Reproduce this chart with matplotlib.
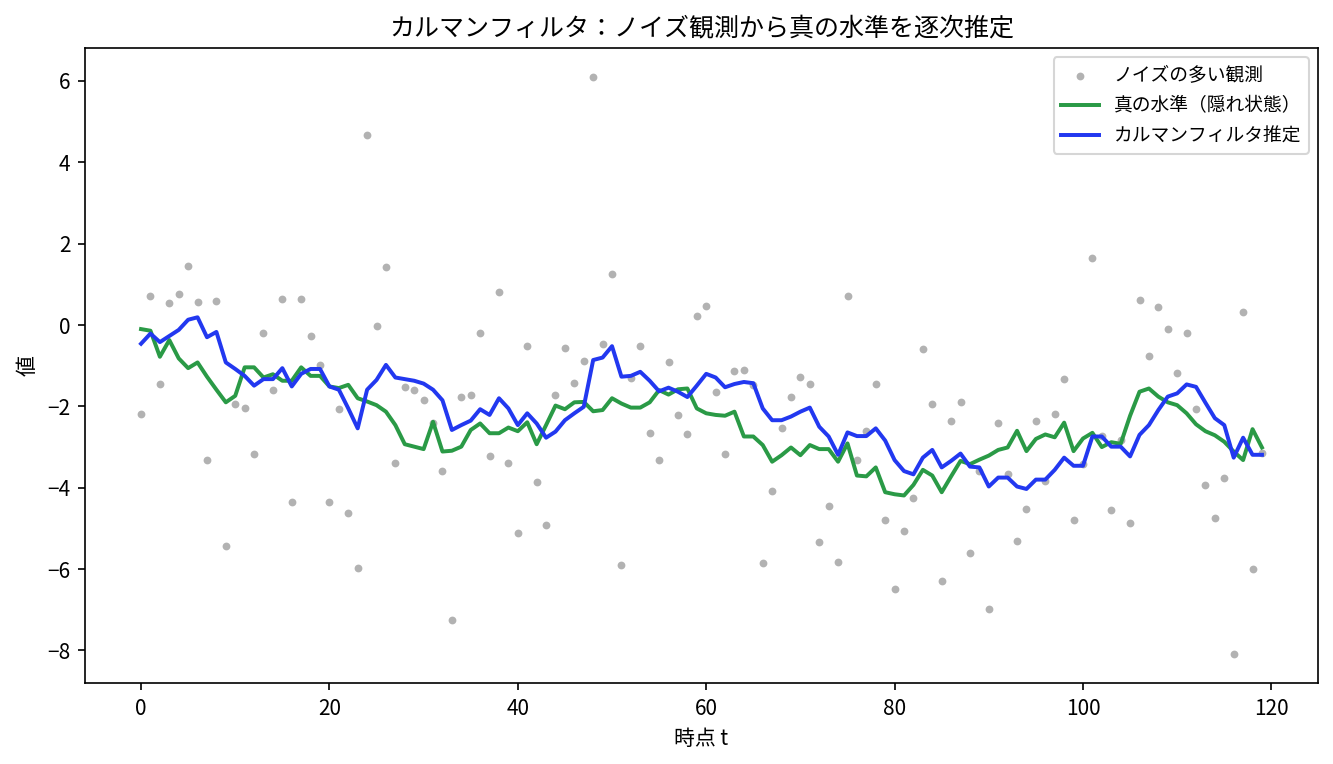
import numpy as np
import matplotlib.pyplot as plt

plt.rcParams['font.family'] = ['Noto Sans CJK JP', 'DejaVu Sans']
plt.rcParams['axes.unicode_minus'] = True

# 観測値（ノイズ入り）
observed = [
    -2.18, 0.71, -1.44, 0.54, 0.76, 1.46, 0.56, -3.31, 0.59, -5.44,
    -1.95, -2.03, -3.16, -0.19, -1.59, 0.64, -4.36, 0.64, -0.27, -0.99,
    -4.36, -2.07, -4.61, -5.98, 4.66, -0.02, 1.42, -3.38, -1.53, -1.59,
    -1.85, -2.40, -3.59, -7.25, -1.76, -1.73, -0.19, -3.23, 0.81, -3.40,
    -5.12, -0.52, -3.87, -4.92, -1.73, -0.57, -1.42, -0.88, 6.10, -0.46,
    1.25, -5.90, -1.31, -0.52, -2.65, -3.31, -0.92, -2.20, -2.69, 0.23,
    0.47, -1.64, -3.16, -1.12, -1.10, -1.47, -5.86, -4.07, -2.52, -1.76,
    -1.27, -1.44, -5.34, -4.46, -5.83, 0.71, -3.33, -2.61, -1.44, -4.80,
    -6.49, -5.07, -4.26, -0.59, -1.95, -6.30, -2.37, -1.88, -5.61, -3.60,
    -6.98, -2.42, -3.67, -5.31, -4.53, -2.35, -3.83, -2.18, -1.32, -4.80,
    -3.42, 1.64, -2.74, -4.55, -2.82, -4.87, 0.62, -0.77, 0.45, -0.10,
    -1.19, -0.20, -2.06, -3.94, -4.75, -3.75, -8.09, 0.31, -6.00, -3.15,
]

# 真の水準
true_level = [
    -0.10, -0.14, -0.78, -0.37, -0.82, -1.06, -0.92, -1.27, -1.59, -1.90,
    -1.74, -1.04, -1.04, -1.29, -1.21, -1.37, -1.37, -1.04, -1.25, -1.25,
    -1.51, -1.55, -1.47, -1.80, -1.88, -1.97, -2.13, -2.46, -2.93, -2.99,
    -3.05, -2.38, -3.11, -3.09, -2.99, -2.58, -2.42, -2.66, -2.66, -2.52,
    -2.61, -2.39, -2.93, -2.46, -1.98, -2.07, -1.90, -1.89, -2.12, -2.09,
    -1.80, -1.93, -2.03, -2.03, -1.90, -1.60, -1.71, -1.58, -1.56, -2.05,
    -2.17, -2.21, -2.23, -2.13, -2.74, -2.74, -2.95, -3.36, -3.20, -3.01,
    -3.20, -2.95, -3.05, -3.05, -3.36, -2.91, -3.70, -3.72, -3.50, -4.11,
    -4.16, -4.19, -3.93, -3.56, -3.70, -4.11, -3.72, -3.34, -3.42, -3.31,
    -3.21, -3.07, -3.01, -2.60, -3.10, -2.80, -2.69, -2.76, -2.40, -3.10,
    -2.79, -2.65, -3.00, -2.88, -2.92, -2.23, -1.64, -1.56, -1.76, -1.90,
    -1.97, -2.17, -2.44, -2.61, -2.71, -2.87, -3.11, -3.32, -2.56, -3.01,
]

# カルマンフィルタ推定値
kalman = [
    -0.46, -0.21, -0.42, -0.27, -0.12, 0.13, 0.19, -0.30, -0.17, -0.92,
    -1.08, -1.25, -1.49, -1.33, -1.33, -1.06, -1.51, -1.20, -1.08, -1.08,
    -1.51, -1.59, -2.05, -2.54, -1.59, -1.35, -0.98, -1.29, -1.33, -1.37,
    -1.44, -1.59, -1.85, -2.58, -2.46, -2.35, -2.07, -2.21, -1.80, -2.05,
    -2.46, -2.17, -2.42, -2.77, -2.62, -2.34, -2.17, -2.01, -0.86, -0.80,
    -0.52, -1.27, -1.25, -1.15, -1.37, -1.63, -1.54, -1.64, -1.77, -1.49,
    -1.20, -1.29, -1.53, -1.45, -1.40, -1.43, -2.05, -2.34, -2.34, -2.25,
    -2.13, -2.03, -2.50, -2.74, -3.19, -2.64, -2.73, -2.73, -2.54, -2.84,
    -3.32, -3.59, -3.67, -3.26, -3.07, -3.50, -3.34, -3.16, -3.48, -3.50,
    -3.97, -3.75, -3.75, -3.97, -4.03, -3.80, -3.80, -3.56, -3.26, -3.46,
    -3.46, -2.74, -2.74, -2.99, -2.99, -3.23, -2.70, -2.46, -2.09, -1.76,
    -1.68, -1.46, -1.52, -1.91, -2.29, -2.46, -3.26, -2.77, -3.19, -3.19,
]

t = np.arange(len(observed))

fig, ax = plt.subplots(figsize=(1333 / 150, 764 / 150), dpi=150)
fig.subplots_adjust(left=85 / 1333, right=1318 / 1333, top=1 - 48 / 764, bottom=1 - 683 / 764)

ax.scatter(t, observed, s=14, color="gray", alpha=0.6, linewidths=0, label="ノイズの多い観測")
ax.plot(t, true_level, color="#2a9a46", linewidth=1.9, label="真の水準（隠れ状態）")
ax.plot(t, kalman, color="#2238f0", linewidth=1.9, label="カルマンフィルタ推定")

ax.set_title("カルマンフィルタ：ノイズ観測から真の水準を逐次推定", fontsize=12)
ax.set_xlabel("時点 t")
ax.set_ylabel("値")
ax.legend(loc="upper right", fontsize=9)

fig.savefig("out.png", dpi=150)
